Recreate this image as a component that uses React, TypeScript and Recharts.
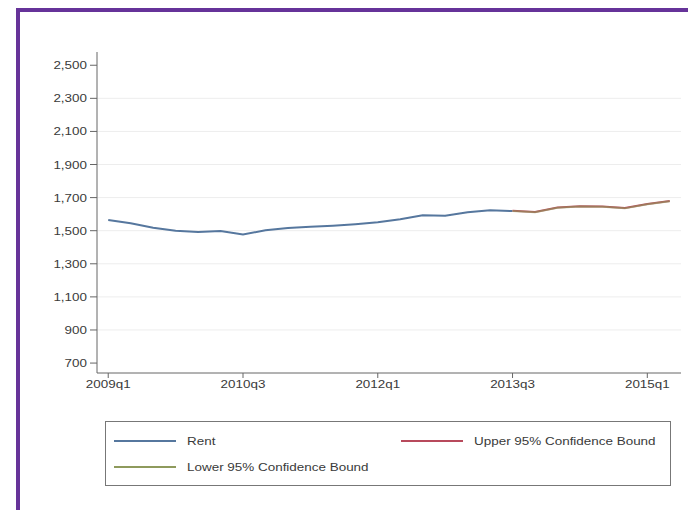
import React from 'react';
import { LineChart, Line, XAxis, YAxis, CartesianGrid } from 'recharts';

// quarters 2009q1 .. 2015q2
const quarters = [
  '2009q1', '2009q2', '2009q3', '2009q4',
  '2010q1', '2010q2', '2010q3', '2010q4',
  '2011q1', '2011q2', '2011q3', '2011q4',
  '2012q1', '2012q2', '2012q3', '2012q4',
  '2013q1', '2013q2', '2013q3', '2013q4',
  '2014q1', '2014q2', '2014q3', '2014q4',
  '2015q1', '2015q2',
];

const rent = [
  1565, 1545, 1518, 1500, 1492, 1498, 1477, 1503, 1517, 1524,
  1530, 1539, 1551, 1569, 1593, 1591, 1611, 1623, 1619,
];

const upperBound = [1620, 1613, 1640, 1648, 1646, 1637, 1662, 1680];
const lowerBound = [1619, 1611, 1638, 1646, 1644, 1635, 1660, 1678];

const yTicks = [700, 900, 1100, 1300, 1500, 1700, 1900, 2100, 2300, 2500];
const gridValues = [900, 1100, 1300, 1500, 1700, 1900, 2100, 2300];
const xTicks = [0, 6, 12, 18, 24];

const seriesNames = ['Rent', 'Upper 95% Confidence Bound', 'Lower 95% Confidence Bound'];
const seriesColors = ['#56779e', '#b84a5c', '#8e9a5c'];

const forecastStart = rent.length - 1;

const data = quarters.map((q, i) => ({
  idx: i,
  rent: i < rent.length ? rent[i] : null,
  upper: i >= forecastStart ? upperBound[i - forecastStart] : null,
  lower: i >= forecastStart ? lowerBound[i - forecastStart] : null,
}));

const font = '"Liberation Sans", Arial, sans-serif';
const stretch = 1.28; // the source text is wide and flat

const XTick = (props: any) => {
  const { x, y, payload } = props;
  return (
    <text
      transform={`translate(${x},${y + 8}) scale(${stretch},1)`}
      textAnchor="middle"
      fontSize={10.5}
      fontFamily={font}
      fill="#3a3a3a"
    >
      {quarters[payload.value]}
    </text>
  );
};

const YTick = (props: any) => {
  const { x, y, payload } = props;
  return (
    <text
      transform={`translate(${x},${y + 4}) scale(${stretch},1)`}
      textAnchor="end"
      fontSize={10.5}
      fontFamily={font}
      fill="#3a3a3a"
    >
      {payload.value.toLocaleString('en-US')}
    </text>
  );
};

const LegendItem = ({ name, color, left, top }: { name: string; color: string; left: number; top: number }) => (
  <div style={{ position: 'absolute', left, top, display: 'flex', alignItems: 'center', height: 14 }}>
    <div style={{ width: 62, height: 0, borderTop: `2px solid ${color}` }} />
    <span
      style={{
        marginLeft: 11,
        fontSize: 10.5,
        color: '#3a3a3a',
        fontFamily: font,
        display: 'inline-block',
        whiteSpace: 'nowrap',
        transform: `scaleX(${stretch})`,
        transformOrigin: 'left center',
      }}
    >
      {name}
    </span>
  </div>
);

export default function App() {
  return (
    <div style={{ position: 'absolute', left: 0, top: 0, width: 688, height: 510, background: '#fff', overflow: 'hidden' }}>
      <div
        style={{
          position: 'absolute',
          left: 16,
          top: 8,
          width: 700,
          height: 498,
          border: '4px solid #663399',
        }}
      />
      <div style={{ position: 'absolute', left: 0, top: 0 }}>
        <LineChart width={688} height={510} data={data} margin={{ top: 52, right: 7, left: 0, bottom: 107 }}>
          <CartesianGrid horizontal vertical={false} horizontalValues={gridValues} stroke="#ededed" strokeWidth={1} />
          <XAxis
            dataKey="idx"
            type="number"
            domain={[-0.5, 25.5]}
            allowDataOverflow
            ticks={xTicks}
            height={30}
            tickSize={5}
            tickMargin={2}
            stroke="#666"
            tick={<XTick />}
            interval={0}
          />
          <YAxis
            type="number"
            domain={[640, 2580]}
            allowDataOverflow
            ticks={yTicks}
            width={97}
            tickSize={7}
            tickMargin={3}
            stroke="#666"
            tick={<YTick />}
            interval={0}
          />
          <Line dataKey="rent" stroke={seriesColors[0]} strokeWidth={2} dot={false} isAnimationActive={false} />
          <Line dataKey="upper" stroke={seriesColors[1]} strokeWidth={2} dot={false} isAnimationActive={false} />
          <Line dataKey="lower" stroke={seriesColors[2]} strokeWidth={2} strokeOpacity={0.6} dot={false} isAnimationActive={false} />
        </LineChart>
      </div>
      <div
        style={{
          position: 'absolute',
          left: 105,
          top: 421,
          width: 564,
          height: 63,
          border: '1px solid #777',
        }}
      />
      <LegendItem name={seriesNames[0]} color={seriesColors[0]} left={114} top={434} />
      <LegendItem name={seriesNames[1]} color={seriesColors[1]} left={401} top={434} />
      <LegendItem name={seriesNames[2]} color={seriesColors[2]} left={114} top={460} />
    </div>
  );
}
